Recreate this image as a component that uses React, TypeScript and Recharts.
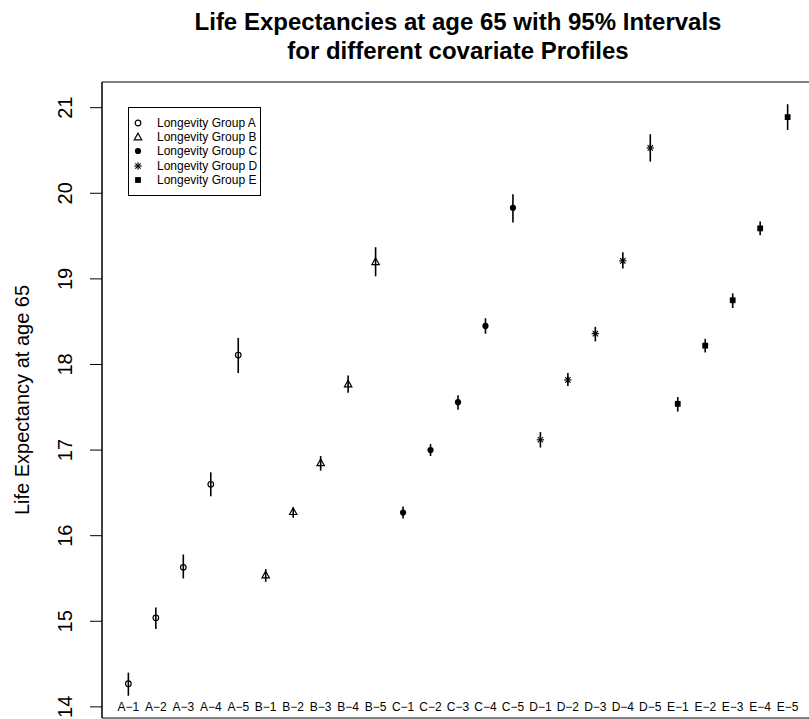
import React from 'react';
import { ScatterChart, Scatter, XAxis, YAxis, ErrorBar, ReferenceArea } from 'recharts';

const FONT = '"Liberation Sans", Arial, Helvetica, sans-serif';

// x categories (covariate profiles), drawn at the y = 14 level like the original
const profiles = [
  'A−1', 'A−2', 'A−3', 'A−4', 'A−5',
  'B−1', 'B−2', 'B−3', 'B−4', 'B−5',
  'C−1', 'C−2', 'C−3', 'C−4', 'C−5',
  'D−1', 'D−2', 'D−3', 'D−4', 'D−5',
  'E−1', 'E−2', 'E−3', 'E−4', 'E−5',
];
const labelLevel = 14;

const groupNames = [
  'Longevity Group A',
  'Longevity Group B',
  'Longevity Group C',
  'Longevity Group D',
  'Longevity Group E',
];

// life expectancy estimates and 95% interval bounds per group
const groupA = [14.27, 15.04, 15.63, 16.6, 18.11];
const groupALow = [14.13, 14.91, 15.5, 16.46, 17.9];
const groupAHigh = [14.4, 15.16, 15.78, 16.74, 18.31];

const groupB = [15.54, 16.28, 16.85, 17.77, 19.2];
const groupBLow = [15.46, 16.21, 16.76, 17.67, 19.03];
const groupBHigh = [15.61, 16.33, 16.93, 17.87, 19.37];

const groupC = [16.27, 17.0, 17.56, 18.45, 19.83];
const groupCLow = [16.2, 16.93, 17.47, 18.36, 19.66];
const groupCHigh = [16.34, 17.07, 17.64, 18.54, 19.99];

const groupD = [17.12, 17.82, 18.36, 19.21, 20.53];
const groupDLow = [17.03, 17.75, 18.27, 19.12, 20.37];
const groupDHigh = [17.21, 17.9, 18.44, 19.31, 20.69];

const groupE = [17.54, 18.22, 18.75, 19.59, 20.89];
const groupELow = [17.45, 18.14, 18.66, 19.51, 20.74];
const groupEHigh = [17.62, 18.3, 18.83, 19.67, 21.04];

const yTicks = [14, 15, 16, 17, 18, 19, 20, 21];
const xDomain: [number, number] = [0.04, 25.96];
const yDomain: [number, number] = [13.87, 21.3];

type Kind = 'openCircle' | 'triangle' | 'dot' | 'asterisk' | 'square';
const kinds: Kind[] = ['openCircle', 'triangle', 'dot', 'asterisk', 'square'];

const makeSeries = (vals: number[], lows: number[], highs: number[], start: number) =>
  vals.map((v, i) => ({
    x: start + i + 1,
    y: v,
    err: [v - lows[i], highs[i] - v],
  }));

const series = [
  makeSeries(groupA, groupALow, groupAHigh, 0),
  makeSeries(groupB, groupBLow, groupBHigh, 5),
  makeSeries(groupC, groupCLow, groupCHigh, 10),
  makeSeries(groupD, groupDLow, groupDHigh, 15),
  makeSeries(groupE, groupELow, groupEHigh, 20),
];

const labelData = profiles.map((p, i) => ({ x: i + 1, y: labelLevel, tag: p }));

const MarkerSvg = ({ kind, cx, cy }: { kind: Kind; cx: number; cy: number }) => {
  switch (kind) {
    case 'openCircle':
      return <circle cx={cx} cy={cy} r={2.8} fill="none" stroke="#000" strokeWidth={1.2} />;
    case 'triangle': {
      const s = 3.7;
      const pts = `${cx},${cy - s * 1.05} ${cx - s},${cy + s * 0.75} ${cx + s},${cy + s * 0.75}`;
      return <polygon points={pts} fill="none" stroke="#000" strokeWidth={1.2} />;
    }
    case 'dot':
      return <circle cx={cx} cy={cy} r={3.1} fill="#000" />;
    case 'asterisk': {
      const r = 3.7;
      const d = r * 0.72;
      return (
        <g stroke="#000" strokeWidth={1.1}>
          <line x1={cx - r} y1={cy} x2={cx + r} y2={cy} />
          <line x1={cx} y1={cy - r} x2={cx} y2={cy + r} />
          <line x1={cx - d} y1={cy - d} x2={cx + d} y2={cy + d} />
          <line x1={cx - d} y1={cy + d} x2={cx + d} y2={cy - d} />
        </g>
      );
    }
    case 'square':
      return <rect x={cx - 2.9} y={cy - 2.9} width={5.8} height={5.8} fill="#000" />;
  }
  return null;
};

const LegendBox = () => (
  <div
    style={{
      position: 'absolute',
      left: 128,
      top: 107,
      width: 133,
      height: 89,
      boxSizing: 'border-box',
      border: '1px solid #000',
      background: '#fff',
      paddingTop: 7.5,
      fontFamily: FONT,
      fontSize: 12,
      lineHeight: '14.4px',
      color: '#000',
    }}
  >
    {groupNames.map((name, i) => (
      <div key={name} style={{ display: 'flex', alignItems: 'center', height: 14.4 }}>
        <svg width={28} height={14} style={{ flex: 'none' }}>
          <MarkerSvg kind={kinds[i]} cx={9} cy={7} />
        </svg>
        <span style={{ whiteSpace: 'nowrap' }}>{name}</span>
      </div>
    ))}
  </div>
);

const YTick = (props: any) => {
  const { x, y, payload } = props;
  return (
    <text
      transform={`translate(${x},${y}) rotate(-90)`}
      textAnchor="middle"
      fontSize={20}
      fontFamily={FONT}
      fill="#000"
    >
      {payload.value}
    </text>
  );
};

export default function App() {
  return (
    <div
      style={{
        position: 'absolute',
        left: 0,
        top: 0,
        width: 809,
        height: 719,
        overflow: 'hidden',
        background: '#fff',
      }}
    >
      <ScatterChart
        width={814}
        height={719}
        margin={{ top: 82, right: 0, bottom: 1, left: 0 }}
      >
        <XAxis
          dataKey="x"
          type="number"
          domain={xDomain}
          allowDataOverflow
          tick={false}
          tickLine={false}
          height={0}
          axisLine={{ stroke: '#000', strokeWidth: 1 }}
        />
        <YAxis
          dataKey="y"
          type="number"
          domain={yDomain}
          allowDataOverflow
          ticks={yTicks}
          width={102}
          tickSize={12}
          tickMargin={18}
          tick={<YTick />}
          tickLine={{ stroke: '#000', strokeWidth: 1 }}
          axisLine={{ stroke: '#000', strokeWidth: 1 }}
        />
        <ReferenceArea
          x1={xDomain[0]}
          x2={xDomain[1]}
          y1={yDomain[0]}
          y2={yDomain[1]}
          fill="none"
          fillOpacity={0}
          stroke="#000"
          strokeWidth={1}
          ifOverflow="visible"
        />
        {series.map((data, i) => (
          <Scatter
            key={groupNames[i]}
            name={groupNames[i]}
            data={data}
            isAnimationActive={false}
            shape={(p: any) => <MarkerSvg kind={kinds[i]} cx={p.cx} cy={p.cy} />}
          >
            <ErrorBar
              dataKey="err"
              direction="y"
              width={0}
              stroke="#000"
              strokeWidth={1.6}
              isAnimationActive={false}
            />
          </Scatter>
        ))}
        <Scatter
          name="profiles"
          data={labelData}
          isAnimationActive={false}
          legendType="none"
          shape={(p: any) => (
            <text
              x={p.cx}
              y={p.cy}
              textAnchor="middle"
              dominantBaseline="central"
              fontSize={12}
              fontFamily={FONT}
              fill="#000"
            >
              {(p.payload && p.payload.tag) || p.tag}
            </text>
          )}
        />
      </ScatterChart>
      <LegendBox />
      <svg
        width={809}
        height={719}
        style={{ position: 'absolute', left: 0, top: 0, pointerEvents: 'none' }}
      >
        <text x={458} y={29.5} textAnchor="middle" fontSize={24} fontWeight="bold" fontFamily={FONT}>
          Life Expectancies at age 65 with 95% Intervals
        </text>
        <text x={458} y={58.5} textAnchor="middle" fontSize={24} fontWeight="bold" fontFamily={FONT}>
          for different covariate Profiles
        </text>
        <text
          transform="translate(29,400) rotate(-90)"
          textAnchor="middle"
          fontSize={20}
          fontFamily={FONT}
        >
          Life Expectancy at age 65
        </text>
      </svg>
    </div>
  );
}
